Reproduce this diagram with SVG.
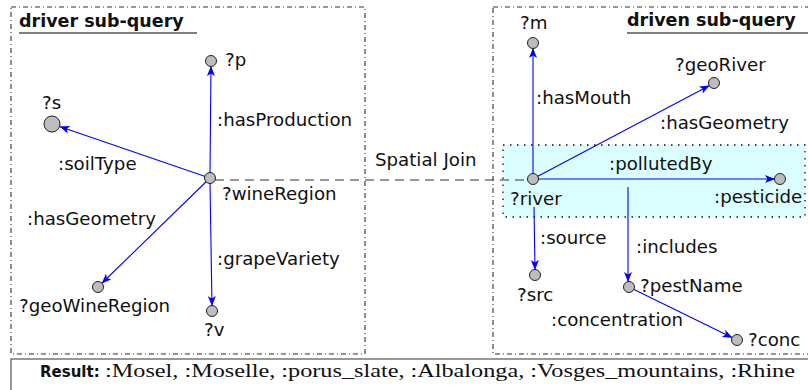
<svg xmlns="http://www.w3.org/2000/svg" width="808" height="390" viewBox="0 0 808 390">
  <style>
    .lbl { font-family: "DejaVu Sans", "Liberation Sans", sans-serif; font-size: 18.2px; fill: #111; }
    .title { font-family: "DejaVu Sans", "Liberation Sans", sans-serif; font-size: 17.5px; font-weight: bold; fill: #111; }
    .uline { stroke: #555; stroke-width: 1.6; }
    .frame { fill: none; stroke: #333; stroke-width: 1.1; stroke-dasharray: 5 3 1 3; }
    .edge { stroke: #0000ff; stroke-width: 1.1; fill: none; marker-end: url(#arr); }
    .node { fill: #bdbdbd; stroke: #222; stroke-width: 1; }
    .join { stroke: #333; stroke-width: 1; stroke-dasharray: 9 6; fill: none; }
  </style>
  <defs>
    <marker id="arr" viewBox="0 0 10 8" refX="10" refY="4" markerWidth="10" markerHeight="8" markerUnits="userSpaceOnUse" orient="auto">
      <path d="M0,0 L10,4 L0,8 L2.5,4 z" fill="#0000ff"/>
    </marker>
  </defs>
  <rect width="808" height="390" fill="#fff"/>

  <!-- sub-query frames -->
  <g id="driver-frame">
    <rect class="frame" x="11" y="7" width="354" height="347"/>
    <text class="title" x="19" y="27">driver sub-query</text>
    <line class="uline" x1="19" y1="33" x2="197" y2="33"/>
  </g>
  <g id="driven-frame">
    <rect x="503" y="145" width="302" height="72" fill="#dbffff" stroke="#111" stroke-width="1.3" stroke-dasharray="1.5 5.5"/>
    <rect class="frame" x="493" y="7" width="340" height="347"/>
    <text class="title" x="627" y="26">driven sub-query</text>
    <line class="uline" x1="627" y1="33" x2="808" y2="33"/>
  </g>

  <!-- connectors -->
  <g id="connectors">
    <line class="join" x1="215" y1="180" x2="528" y2="180"/>
    <text class="lbl" x="375" y="166">Spatial Join</text>

    <line class="edge" x1="210" y1="173" x2="211" y2="66"/>
    <text class="lbl" x="217" y="126">:hasProduction</text>
    <line class="edge" x1="205.3" y1="176.4" x2="59.6" y2="126.6"/>
    <text class="lbl" x="58" y="170">:soilType</text>
    <line class="edge" x1="206.4" y1="181.5" x2="101.6" y2="283.5"/>
    <text class="lbl" x="27" y="225">:hasGeometry</text>
    <line class="edge" x1="210" y1="183" x2="212" y2="306"/>
    <text class="lbl" x="217" y="265">:grapeVariety</text>

    <line class="edge" x1="533" y1="174" x2="533" y2="48"/>
    <text class="lbl" x="536" y="104">:hasMouth</text>
    <line class="edge" x1="537.4" y1="176.6" x2="709.6" y2="85.4"/>
    <text class="lbl" x="660" y="129">:hasGeometry</text>
    <line class="edge" x1="538" y1="179" x2="775" y2="179"/>
    <text class="lbl" x="609" y="170">:pollutedBy</text>
    <line class="edge" x1="628" y1="187" x2="628" y2="282"/>
    <text class="lbl" x="636" y="253">:includes</text>
    <line class="edge" x1="534" y1="207" x2="535" y2="270"/>
    <text class="lbl" x="540" y="244">:source</text>
    <line class="edge" x1="633.5" y1="289.2" x2="732.5" y2="337.8"/>
    <text class="lbl" x="551" y="326">:concentration</text>
  </g>

  <!-- driver sub-query nodes -->
  <g id="n-wineRegion">
    <circle class="node" cx="210" cy="178" r="5.5"/>
    <text class="lbl" x="222" y="200">?wineRegion</text>
  </g>
  <g id="n-p">
    <circle class="node" cx="211" cy="61" r="5.5"/>
    <text class="lbl" x="225" y="66">?p</text>
  </g>
  <g id="n-s">
    <circle class="node" cx="52" cy="124" r="8"/>
    <text class="lbl" x="42" y="109">?s</text>
  </g>
  <g id="n-geoWineRegion">
    <circle class="node" cx="98" cy="287" r="5.5"/>
    <text class="lbl" x="19" y="312">?geoWineRegion</text>
  </g>
  <g id="n-v">
    <circle class="node" cx="212" cy="311" r="5.5"/>
    <text class="lbl" x="204" y="336">?v</text>
  </g>

  <!-- driven sub-query nodes -->
  <g id="n-river">
    <circle class="node" cx="533" cy="179" r="5.5"/>
    <text class="lbl" x="510" y="205">?river</text>
  </g>
  <g id="n-m">
    <circle class="node" cx="533" cy="43" r="5.5"/>
    <text class="lbl" x="520" y="29">?m</text>
  </g>
  <g id="n-geoRiver">
    <circle class="node" cx="714" cy="83" r="5.5"/>
    <text class="lbl" x="675" y="71">?geoRiver</text>
  </g>
  <g id="n-pesticide">
    <circle class="node" cx="780" cy="179" r="5.5"/>
    <text class="lbl" x="714" y="203">:pesticide</text>
  </g>
  <g id="n-src">
    <circle class="node" cx="535" cy="275" r="5.5"/>
    <text class="lbl" x="517" y="301">?src</text>
  </g>
  <g id="n-pestName">
    <circle class="node" cx="629" cy="287" r="5.5"/>
    <text class="lbl" x="640" y="292">?pestName</text>
  </g>
  <g id="n-conc">
    <circle class="node" cx="737" cy="340" r="5.5"/>
    <text class="lbl" x="748" y="346">?conc</text>
  </g>

  <!-- result bar -->
  <g id="result">
    <rect x="11" y="359" width="830" height="60" fill="none" stroke="#555" stroke-width="1.2"/>
    <text x="40" y="377" font-family="'DejaVu Sans', 'Liberation Sans', sans-serif" font-size="15" font-weight="bold" fill="#111">Result:</text>
    <text x="105" y="377" font-family="'Liberation Serif', serif" font-size="19" fill="#111" textLength="690" lengthAdjust="spacingAndGlyphs">:Mosel, :Moselle, :porus_slate, :Albalonga, :Vosges_mountains, :Rhine</text>
  </g>
</svg>
